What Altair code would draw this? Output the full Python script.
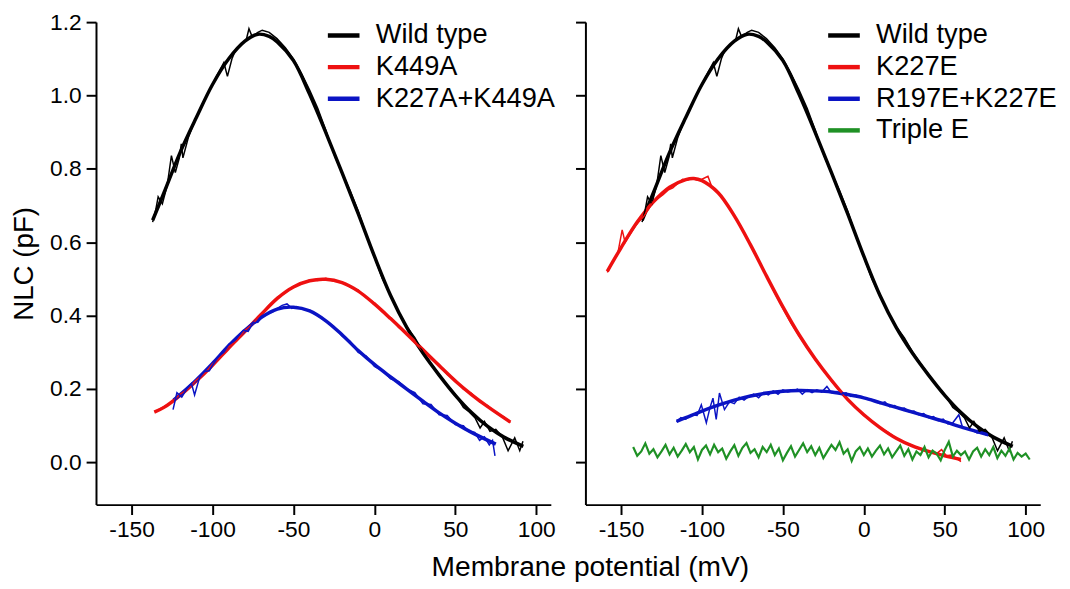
import altair as alt
import pandas as pd

FONT = "Liberation Sans"

# ---------------- Wild type (same curve in both panels) ----------------
wt_fit_x = [-137, -130, -120, -110, -100, -90, -80, -72, -65, -60, -50, -40, -30, -20, -10, 0, 10, 20, 30, 40, 50, 60, 70, 80, 92]
wt_fit_y = [0.66, 0.735, 0.845, 0.94, 1.03, 1.10, 1.148, 1.167, 1.161, 1.146, 1.095, 1.003, 0.899, 0.79, 0.678, 0.562, 0.455, 0.368, 0.298, 0.238, 0.183, 0.136, 0.098, 0.069, 0.044]
wt_dat_x = [-137, -135, -133.6, -131, -128, -125.4, -123, -120.5, -119.3, -118.3, -115, -112, -108, -104, -100, -96, -93, -90.8, -88, -85.7, -82, -79, -77.5, -75.5, -72, -69.3, -65, -60.2, -55, -50, -45, -40, -35, -30, -27.5, -24, -20, -15, -10, -5, 0, 5, 10, 15, 20, 25, 30, 35, 40, 45, 50, 55, 58, 62.2, 65.3, 68, 71.4, 75, 79, 82.6, 86.7, 89.8, 91.8]
wt_dat_y = [0.655, 0.69, 0.724, 0.705, 0.755, 0.836, 0.79, 0.83, 0.868, 0.83, 0.885, 0.92, 0.96, 0.995, 1.03, 1.065, 1.09, 1.052, 1.10, 1.124, 1.14, 1.155, 1.182, 1.16, 1.172, 1.178, 1.172, 1.155, 1.13, 1.10, 1.06, 1.015, 0.965, 0.905, 0.872, 0.83, 0.79, 0.74, 0.685, 0.62, 0.56, 0.50, 0.455, 0.41, 0.37, 0.34, 0.302, 0.27, 0.24, 0.21, 0.185, 0.15, 0.14, 0.121, 0.094, 0.112, 0.085, 0.09, 0.07, 0.032, 0.067, 0.032, 0.058]

# ---------------- Left panel mutants ----------------
k449a_fit_x = [-136, -130, -120, -110, -100, -90, -80, -70, -60, -50, -40, -30, -20, -10, 0, 10, 20, 30, 40, 50, 60, 70, 84]
k449a_fit_y = [0.137, 0.150, 0.183, 0.222, 0.265, 0.312, 0.357, 0.403, 0.447, 0.478, 0.495, 0.499, 0.490, 0.467, 0.432, 0.392, 0.350, 0.307, 0.264, 0.222, 0.185, 0.152, 0.110]
k449a_dat_x = [-135, -130, -125, -120, -115, -110, -105, -100, -95, -90, -85, -80, -75, -70, -65, -60, -55, -50, -45, -40, -35, -30, -25, -20, -15, -10, -5, 0, 5, 10, 15, 20, 25, 30, 35, 40, 45, 50, 55, 60, 65, 70, 75, 80, 84]
k449a_dat_y = [0.14, 0.152, 0.165, 0.186, 0.2, 0.225, 0.242, 0.268, 0.288, 0.315, 0.332, 0.36, 0.378, 0.405, 0.428, 0.45, 0.462, 0.48, 0.487, 0.497, 0.496, 0.502, 0.494, 0.492, 0.478, 0.47, 0.449, 0.435, 0.41, 0.395, 0.368, 0.352, 0.327, 0.31, 0.283, 0.267, 0.24, 0.225, 0.2, 0.188, 0.165, 0.155, 0.135, 0.124, 0.108]

kk_fit_x = [-124, -120, -110, -100, -90, -80, -70, -60, -50, -40, -30, -20, -10, 0, 10, 20, 30, 40, 50, 60, 75]
kk_fit_y = [0.17, 0.185, 0.225, 0.27, 0.318, 0.36, 0.395, 0.418, 0.423, 0.413, 0.386, 0.348, 0.305, 0.267, 0.233, 0.2, 0.167, 0.135, 0.107, 0.082, 0.05]
kk_dat_x = [-124.4, -122, -119, -116, -113, -111.1, -108, -105, -102, -99, -96, -93, -90, -87, -84, -81, -78, -75, -72, -69, -66, -63, -60, -57, -54, -51, -48, -45, -40, -35, -30, -25, -20, -15, -10, -5, 0, 5, 10, 15, 20, 25, 30, 35, 40, 45, 50, 55, 58, 62, 65, 68, 71, 73, 74.5]
kk_dat_y = [0.144, 0.19, 0.178, 0.2, 0.215, 0.184, 0.232, 0.248, 0.25, 0.272, 0.29, 0.3, 0.322, 0.33, 0.345, 0.36, 0.357, 0.38, 0.382, 0.398, 0.405, 0.41, 0.42, 0.428, 0.432, 0.42, 0.425, 0.418, 0.415, 0.4, 0.385, 0.37, 0.345, 0.33, 0.3, 0.29, 0.262, 0.25, 0.228, 0.22, 0.2, 0.19, 0.16, 0.158, 0.13, 0.128, 0.103, 0.1, 0.085, 0.082, 0.06, 0.07, 0.048, 0.06, 0.018]

# ---------------- Right panel mutants ----------------
k227e_fit_x = [-158.5, -150, -140, -130, -120, -110, -105, -100, -90, -80, -70, -60, -50, -40, -30, -20, -10, 0, 10, 20, 30, 40, 50, 60]
k227e_fit_y = [0.521, 0.585, 0.655, 0.71, 0.75, 0.771, 0.774, 0.768, 0.735, 0.672, 0.593, 0.507, 0.424, 0.348, 0.282, 0.224, 0.172, 0.13, 0.095, 0.066, 0.045, 0.03, 0.018, 0.008]
k227e_dat_x = [-158.5, -155, -152, -149.3, -147.5, -144, -141, -139, -136, -133, -130, -127, -124, -121, -118, -115, -112, -109, -106, -103, -100, -96.3, -94, -91, -88, -85, -80, -75, -70, -65, -60, -55, -50, -45, -40, -35, -30, -25, -20, -15, -10, -5, 0, 5, 10, 15, 20, 25, 30, 35, 40, 45, 48, 51, 54, 57, 60]
k227e_dat_y = [0.518, 0.548, 0.57, 0.634, 0.6, 0.625, 0.645, 0.656, 0.67, 0.69, 0.712, 0.72, 0.73, 0.742, 0.748, 0.76, 0.772, 0.77, 0.774, 0.77, 0.772, 0.78, 0.752, 0.742, 0.725, 0.705, 0.672, 0.635, 0.592, 0.55, 0.508, 0.462, 0.42, 0.38, 0.345, 0.312, 0.28, 0.252, 0.222, 0.195, 0.17, 0.15, 0.128, 0.112, 0.094, 0.082, 0.066, 0.055, 0.046, 0.036, 0.03, 0.024, 0.035, 0.018, 0.02, 0.012, 0.002]

rk_fit_x = [-115.7, -110, -100, -90, -80, -70, -60, -50, -40, -30, -20, -10, 0, 10, 20, 30, 40, 50, 60, 70, 77]
rk_fit_y = [0.112, 0.122, 0.14, 0.156, 0.17, 0.181, 0.189, 0.194, 0.196, 0.195, 0.192, 0.185, 0.176, 0.163, 0.15, 0.137, 0.124, 0.111, 0.097, 0.084, 0.075]
rk_dat_x = [-115.7, -113, -110, -106.5, -103, -100.4, -97.3, -95, -93.2, -91.2, -89.2, -86.1, -83, -80, -77, -74, -71, -68, -65, -62, -59, -56, -53, -50, -47, -44, -41, -38, -35, -32, -29, -26, -22.8, -20, -17, -14, -11, -8, -5, -2, 1, 4, 7, 10, 13, 16, 19, 22, 25, 28, 31, 34, 37, 40, 43, 46, 49, 52, 55, 58.7, 61, 64, 67, 70, 73, 76]
rk_dat_y = [0.11, 0.122, 0.118, 0.13, 0.128, 0.157, 0.108, 0.15, 0.175, 0.117, 0.189, 0.144, 0.165, 0.16, 0.178, 0.17, 0.18, 0.186, 0.176, 0.19, 0.184, 0.195, 0.186, 0.198, 0.192, 0.195, 0.2, 0.186, 0.198, 0.19, 0.198, 0.192, 0.207, 0.19, 0.193, 0.186, 0.19, 0.18, 0.184, 0.178, 0.176, 0.172, 0.168, 0.16, 0.165, 0.152, 0.155, 0.146, 0.148, 0.138, 0.14, 0.13, 0.133, 0.122, 0.125, 0.114, 0.118, 0.105, 0.108, 0.13, 0.095, 0.092, 0.088, 0.08, 0.082, 0.074]

triple_x = [-142.5, -140, -137.5, -135, -132.5, -130, -127.5, -125, -122.5, -120, -117.5, -115, -112.5, -110, -107.5, -105, -102.5, -100, -97.5, -95, -92.5, -90, -87.5, -85, -82.5, -80, -77.5, -75, -72.5, -70, -67.5, -65, -62.5, -60, -57.5, -55, -52.5, -50, -47.5, -45, -42.5, -40, -37.5, -35, -32.5, -30, -27.5, -25, -22.5, -20, -17.5, -15, -12.5, -10, -7.5, -5, -2.5, 0, 2.5, 5, 7.5, 10, 12.5, 15, 17.5, 20, 22.5, 25, 27.5, 30, 32.5, 35, 37.5, 40, 42.5, 45, 47.5, 50, 52.5, 55, 57.5, 60, 62.5, 65, 67.5, 70, 72.5, 75, 77.5, 80, 82.5, 85, 87.5, 90, 92.5, 95, 97.5, 100, 102.5]
triple_y = [0.042, 0.018, 0.030, 0.052, 0.024, 0.036, 0.014, 0.030, 0.048, 0.022, 0.040, 0.016, 0.032, 0.050, 0.028, 0.042, 0.008, 0.034, 0.046, 0.022, 0.048, 0.028, 0.038, 0.010, 0.030, 0.047, 0.018, 0.040, 0.053, 0.026, 0.036, 0.014, 0.042, 0.028, 0.048, 0.020, 0.038, 0.006, 0.026, 0.044, 0.016, 0.034, 0.052, 0.028, 0.044, 0.020, 0.040, 0.012, 0.030, 0.048, 0.034, 0.055, 0.024, 0.036, 0.004, 0.030, 0.042, 0.020, 0.038, 0.016, 0.032, 0.046, 0.022, 0.038, 0.014, 0.030, 0.046, 0.018, 0.036, 0.008, 0.030, 0.020, 0.042, 0.014, 0.032, 0.024, 0.006, 0.034, 0.056, 0.016, 0.032, 0.020, 0.030, 0.008, 0.030, 0.040, 0.016, 0.036, 0.020, 0.042, 0.012, 0.032, 0.018, 0.038, 0.008, 0.026, 0.016, 0.024, 0.008]

left_names = ["Wild type", "K449A", "K227A+K449A"]
left_colors = ["#000000", "#ee1111", "#0b14c4"]
right_names = ["Wild type", "K227E", "R197E+K227E", "Triple E"]
right_colors = ["#000000", "#ee1111", "#0b14c4", "#1f9125"]


def rows(series, kind, xs, ys):
    n = min(len(xs), len(ys))
    return [{"series": series, "kind": kind, "x": xs[k], "y": ys[k], "i": k} for k in range(n)]


left_rows = (rows("Wild type", "fit", wt_fit_x, wt_fit_y) + rows("Wild type", "data", wt_dat_x, wt_dat_y)
             + rows("K449A", "fit", k449a_fit_x, k449a_fit_y) + rows("K449A", "data", k449a_dat_x, k449a_dat_y)
             + rows("K227A+K449A", "fit", kk_fit_x, kk_fit_y) + rows("K227A+K449A", "data", kk_dat_x, kk_dat_y))
right_rows = (rows("Wild type", "fit", wt_fit_x, wt_fit_y) + rows("Wild type", "data", wt_dat_x, wt_dat_y)
              + rows("K227E", "fit", k227e_fit_x, k227e_fit_y) + rows("K227E", "data", k227e_dat_x, k227e_dat_y)
              + rows("R197E+K227E", "fit", rk_fit_x, rk_fit_y) + rows("R197E+K227E", "data", rk_dat_x, rk_dat_y)
              + rows("Triple E", "trace", triple_x, triple_y))


def panel(data, names, colors, first, lx):
    base = alt.Chart(pd.DataFrame(data))
    x_enc = alt.X("x:Q", scale=alt.Scale(domain=[-172, 109], nice=False, zero=False),
                  axis=alt.Axis(values=[-150, -100, -50, 0, 50, 100], title=None, labelPadding=4,
                                labelExpr="'' + datum.value"))
    y_enc = alt.Y("y:Q", scale=alt.Scale(domain=[-0.115, 1.2], nice=False, zero=False),
                  axis=alt.Axis(values=[0, 0.2, 0.4, 0.6, 0.8, 1.0, 1.2], format=".1f",
                                title="NLC (pF)" if first else None, labels=first,
                                labelPadding=5, titlePadding=11))
    scale = alt.Scale(domain=names, range=colors)
    legend = alt.Legend(title=None, orient="none", legendX=lx, legendY=-5,
                        symbolType="stroke", symbolStrokeWidth=4.5, symbolSize=1024,
                        labelFont=FONT, labelFontSize=27.5, labelColor="#000000",
                        labelOffset=14, rowPadding=0, padding=0, labelLimit=400)
    color = alt.Color("series:N", scale=scale, legend=legend)
    fit = base.transform_filter(alt.datum.kind == "fit").mark_line(
        strokeWidth=3.5, interpolate="catmull-rom").encode(
        x=x_enc, y=y_enc, color=color, detail="series:N", order="i:Q")
    dat = base.transform_filter(alt.datum.kind == "data").mark_line(strokeWidth=1.5).encode(
        x=x_enc, y=y_enc, color=color, detail="series:N", order="i:Q")
    layers = [fit, dat]
    if not first:
        trace = base.transform_filter(alt.datum.kind == "trace").mark_line(strokeWidth=2.2).encode(
            x=x_enc, y=y_enc, color=color, detail="series:N", order="i:Q")
        layers.append(trace)
    return alt.layer(*layers).properties(width=460, height=488)


left = panel(left_rows, left_names, left_colors, True, 232)
right = panel(right_rows, right_names, right_colors, False, 243)

chart = alt.hconcat(left, right, spacing=19).resolve_scale(color="independent").properties(
    title=alt.TitleParams("Membrane potential (mV)", orient="bottom", anchor="middle",
                          fontSize=28.5, font=FONT, fontWeight="normal", color="#000000",
                          offset=12, dx=57),
    padding={"left": 3, "top": 0, "right": 5, "bottom": 0},
    background="#ffffff",
).configure_axis(
    grid=False, domainColor="#000000", domainWidth=2, tickColor="#000000", tickWidth=2,
    tickSize=10, labelFont=FONT, labelFontSize=23, labelColor="#000000",
    titleFont=FONT, titleFontSize=28, titleFontWeight="normal", titleColor="#000000",
).configure_view(stroke=None)

chart.save("out.html", embed_options={"renderer": "svg", "actions": False})
